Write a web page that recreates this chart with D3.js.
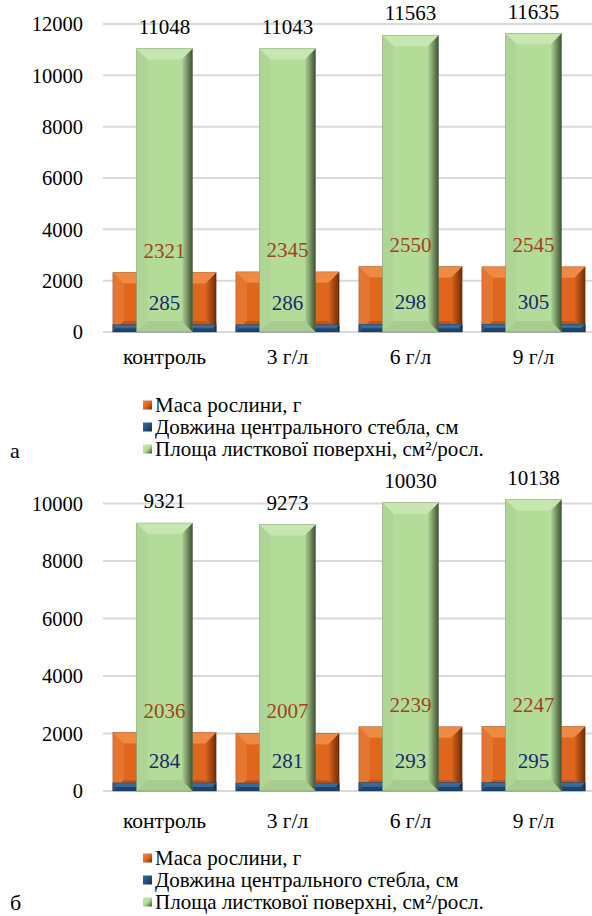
<!DOCTYPE html>
<html>
<head>
<meta charset="utf-8">
<script src="https://cdn.jsdelivr.net/npm/d3@7"></script>
</head>
<body style="margin:0; font-family: 'Liberation Serif', 'Times New Roman', serif;">
<svg id="chart" width="592" height="916" style="font-family: 'Liberation Serif', 'Times New Roman', serif;"></svg>
<script>
// Categories and series values
const categories = ["контроль", "3 г/л", "6 г/л", "9 г/л"];
const seriesNames = ["Маса рослини, г", "Довжина центрального стебла, см", "Площа листкової поверхні, см²/росл."];

// Panel а
const massA = [2321, 2345, 2550, 2545];
const stemA = [285, 286, 298, 305];
const leafA = [11048, 11043, 11563, 11635];
const ticksA = [0, 2000, 4000, 6000, 8000, 10000, 12000];

// Panel б
const massB = [2036, 2007, 2239, 2247];
const stemB = [284, 281, 293, 295];
const leafB = [9321, 9273, 10030, 10138];
const ticksB = [0, 2000, 4000, 6000, 8000, 10000];

const svg = d3.select("#chart");
const defs = svg.append("defs");

// Colour sets for the bevelled columns
const palettes = {
  mass: { face: "#e0661d", top: "#ef8a45", left: "#e5762f", right: "#6e2c08", bottom: "#c2561a", label: "#a0441a" },
  stem: { face: "#23527f", top: "#3a6a97", left: "#2a5a88", right: "#0f2d4b", bottom: "#1b4570", label: "#1b2a6e" },
  leaf: { face: "#b3dc99", top: "#c6e7af", left: "#aed595", right: "#3f5232", bottom: "#a6cd8d", label: "#000000" }
};

// Gradients for the right-hand bevel and legend keys
Object.entries(palettes).forEach(([k, p]) => {
  const g = defs.append("linearGradient").attr("id", "rg-" + k).attr("x1", 0).attr("x2", 1).attr("y1", 0).attr("y2", 0);
  g.append("stop").attr("offset", 0).attr("stop-color", p.face);
  g.append("stop").attr("offset", 1).attr("stop-color", p.right);
  const m = defs.append("linearGradient").attr("id", "mk-" + k).attr("x1", 0).attr("x2", 1).attr("y1", 0).attr("y2", 1);
  m.append("stop").attr("offset", 0).attr("stop-color", p.top);
  m.append("stop").attr("offset", 0.5).attr("stop-color", p.face);
  m.append("stop").attr("offset", 1).attr("stop-color", p.right);
});

// Serif face for every label
function txt(sel, size) {
  return sel.style("font-family", "Liberation Serif").attr("font-size", size);
}

function bevelBar(g, x0, x1, yTop, yBot, key) {
  const p = palettes[key];
  const h = yBot - yTop;
  if (h <= 0) return;
  const b = Math.min(11, h / 2, (x1 - x0) / 4);
  g.append("rect").attr("x", x0).attr("y", yTop).attr("width", x1 - x0).attr("height", h).attr("fill", p.face);
  const poly = pts => pts.map(q => q.join(",")).join(" ");
  g.append("polygon").attr("points", poly([[x0, yTop], [x0 + b, yTop + b], [x0 + b, yBot - b], [x0, yBot]])).attr("fill", p.left);
  g.append("polygon").attr("points", poly([[x0, yBot], [x0 + b, yBot - b], [x1 - b, yBot - b], [x1, yBot]])).attr("fill", p.bottom);
  g.append("polygon").attr("points", poly([[x1, yTop], [x1, yBot], [x1 - b, yBot - b], [x1 - b, yTop + b]])).attr("fill", "url(#rg-" + key + ")");
  g.append("polygon").attr("points", poly([[x0, yTop], [x1, yTop], [x1 - b, yTop + b], [x0 + b, yTop + b]])).attr("fill", p.top);
  g.append("rect").attr("x", x0).attr("y", yTop).attr("width", x1 - x0).attr("height", h)
    .attr("fill", "none").attr("stroke", "rgba(0,0,0,0.2)").attr("stroke-width", 0.8);
}

function drawPanel(cfg) {
  const { mass, stem, leaf, ticks, y0, y1, yMax, catY, legendY, letter, letterY } = cfg;
  const g = svg.append("g");
  const x = d3.scaleBand().domain(categories).range([103, 595]);
  const y = d3.scaleLinear().domain([0, yMax]).range([y0, y1]);
  const bw = x.bandwidth();
  const wide = bw * 0.84, narrow = bw * 0.455;

  // Gridlines
  g.append("g").selectAll("line").data(ticks).join("line")
    .attr("x1", 103).attr("x2", 592)
    .attr("y1", d => y(d)).attr("y2", d => y(d))
    .attr("stroke", "#d9d9d9").attr("stroke-width", 2);

  // Value axis labels
  const axis = d3.axisLeft(y).tickValues(ticks).tickSize(0).tickPadding(0).tickFormat(d3.format("d"));
  const ax = g.append("g").attr("transform", "translate(83,0)").call(axis)
    .attr("font-family", null).attr("font-size", null);
  ax.select(".domain").remove();
  txt(ax.selectAll("text"), 20.5).attr("fill", "#000").attr("dy", "0.34em");

  // Bars
  categories.forEach((c, i) => {
    const cx = x(c) + bw / 2;
    const bg = g.append("g");
    bevelBar(bg, cx - wide / 2, cx + wide / 2, y(mass[i]), y(0), "mass");
    bevelBar(bg, cx - wide / 2, cx + wide / 2, y(stem[i]), y(0), "stem");
    bevelBar(bg, cx - narrow / 2, cx + narrow / 2, y(leaf[i]), y(0), "leaf");
  });

  // Data labels
  const labelSets = [["leaf", leaf], ["mass", mass], ["stem", stem]];
  labelSets.forEach(([key, vals]) => {
    txt(g.append("g").selectAll("text").data(vals).join("text"), 21)
      .attr("x", (d, i) => x(categories[i]) + bw / 2)
      .attr("y", d => y(d) - 22)
      .attr("dy", "0.34em")
      .attr("text-anchor", "middle")
      .attr("fill", palettes[key].label)
      .text(d => d);
  });

  // Category labels
  txt(g.append("g").selectAll("text").data(categories).join("text"), 21.5)
    .attr("x", d => x(d) + bw / 2)
    .attr("y", catY)
    .attr("dy", "0.34em")
    .attr("text-anchor", "middle")
    .text(d => d);

  // Legend
  const keys = ["mass", "stem", "leaf"];
  const lg = g.append("g");
  keys.forEach((k, i) => {
    const ly = legendY + i * 22;
    lg.append("rect").attr("x", 143).attr("y", ly - 4.5).attr("width", 9).attr("height", 9)
      .attr("fill", "url(#mk-" + k + ")");
    txt(lg.append("text"), 21).attr("x", 155).attr("y", ly).attr("dy", "0.34em").text(seriesNames[i]);
  });

  // Panel letter
  txt(g.append("text"), 22).attr("x", 10).attr("y", letterY).attr("dy", "0.34em").text(letter);
}

drawPanel({ mass: massA, stem: stemA, leaf: leafA, ticks: ticksA, y0: 332, y1: 24, yMax: 12000,
  catY: 357, legendY: 405, letter: "а", letterY: 451 });
drawPanel({ mass: massB, stem: stemB, leaf: leafB, ticks: ticksB, y0: 791, y1: 503.5, yMax: 10000,
  catY: 821, legendY: 858, letter: "б", letterY: 903 });
</script>
</body>
</html>
